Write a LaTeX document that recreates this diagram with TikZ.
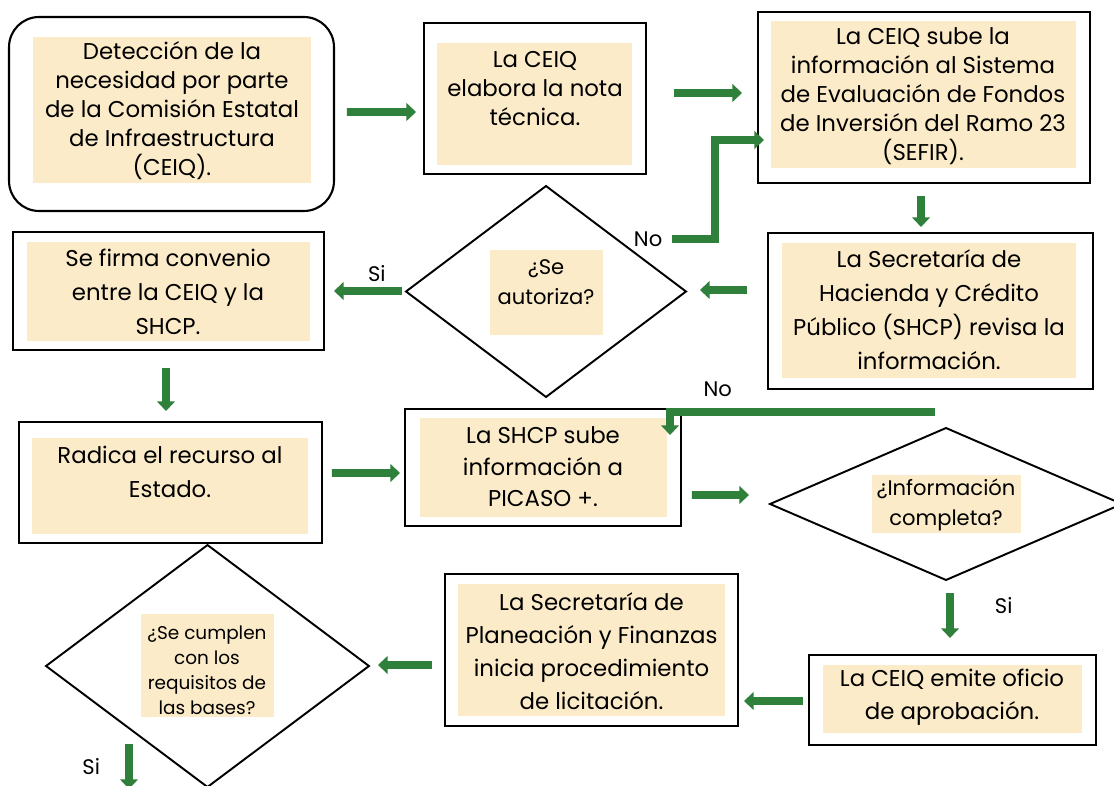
\documentclass[tikz,border=0pt]{standalone}
\usepackage{fontspec}
\setmainfont{Poppins}
\usetikzlibrary{calc,arrows.meta,shapes.geometric}
\definecolor{verde}{RGB}{47,128,59}
\definecolor{beige}{RGB}{252,235,200}
\tikzset{
    caja/.style={draw,line width=1.4pt,inner sep=0pt,outer sep=0pt},
    cajaredonda/.style={caja,line width=1.2pt,rounded corners=0.6cm},
    rombo/.style={draw,diamond,aspect=1,line width=1.1pt,inner sep=0pt,outer sep=0pt},
    fondo/.style={fill=beige,inner sep=0pt,outer sep=0pt},
    texto/.style={align=center,inner sep=0pt,font=\fontsize{13}{#1}\selectfont},
    texto/.default=16.5,
    textorombo/.style 2 args={align=center,inner sep=0pt,font=\fontsize{#1}{#2}\selectfont},
    etiqueta/.style={font=\fontsize{12}{14}\selectfont},
    flecha/.style={draw=verde,line width=4.4pt,-{Triangle[length=5.5pt,width=10pt]}}
}

\begin{document}
\begin{tikzpicture}[x=0.02cm,y=-0.02cm]
\useasboundingbox (0,0) rectangle (1114,786); % page size
\clip (0,0) rectangle (1114,786);
\fill[white] (0,0) rectangle (1114,786);

%%% FILA 1 %%%
\node[cajaredonda,minimum width=6.5cm,minimum height=3.88cm] (inicio) at (171.5,114) {}; % start
\node[fondo,minimum width=5.56cm,minimum height=2.92cm] (inicio-f) at (172,110) {};
\node[texto] (inicio-t) at (172,111) {Detección de la\\necesidad por parte\\de la Comisión Estatal\\de Infraestructura\\(CEIQ).};

\node[caja,minimum width=4.44cm,minimum height=3.02cm] (elabora) at (535,98.5) {};
\node[fondo,minimum width=3.9cm,minimum height=2.44cm] (elabora-f) at (534.5,104) {};
\node[texto] (elabora-t) at (535,89) {La CEIQ\\elabora la nota\\técnica.};

\node[caja,minimum width=6.64cm,minimum height=3.42cm] (sefir) at (924,97.5) {};
\node[fondo,minimum width=6.1cm,minimum height=2.94cm] (sefir-f) at (923.5,94.5) {};
\node[texto] (sefir-t) at (923,96) {La CEIQ sube la\\información al Sistema\\de Evaluación de Fondos\\de Inversión del Ramo 23\\(SEFIR).};

%%% FILA 2 %%%
\node[caja,minimum width=6.22cm,minimum height=2.36cm] (firma) at (168.5,291) {};
\node[fondo,minimum width=5.66cm,minimum height=1.98cm] (firma-f) at (168.5,291.5) {};
\node[texto=19.3] (firma-t) at (168,292) {Se firma convenio\\entre la CEIQ y la\\SHCP.};

\node[rombo,minimum width=5.6cm,minimum height=4.22cm] (autoriza) at (546,291.5) {}; % decision 1
\node[fondo,minimum width=2.26cm,minimum height=1.7cm] (autoriza-f) at (546.5,292.5) {};
\node[textorombo={12}{17}] (autoriza-t) at (546,282) {¿Se\\autoriza?};

\node[caja,minimum width=6.5cm,minimum height=3.12cm] (hacienda) at (930.5,311) {};
\node[fondo,minimum width=5.88cm,minimum height=2.7cm] (hacienda-f) at (929,310.5) {};
\node[texto=19.3] (hacienda-t) at (929,310) {La Secretaría de\\Hacienda y Crédito\\Público (SHCP) revisa la\\información.};

%%% FILA 3 %%%
\node[caja,minimum width=6.06cm,minimum height=2.42cm] (radica) at (170.5,482.5) {};
\node[fondo,minimum width=5.52cm,minimum height=1.92cm] (radica-f) at (170,486) {};
\node[texto=19.5] (radica-t) at (170,472) {Radica el recurso al\\Estado.};

\node[caja,minimum width=5.52cm,minimum height=2.34cm] (shcp) at (543,467.5) {};
\node[fondo,minimum width=4.94cm,minimum height=1.98cm] (shcp-f) at (543.5,467.5) {};
\node[texto=17.9] (shcp-t) at (543,467) {La SHCP sube\\información a\\PICASO +.};

\node[rombo,minimum width=7.04cm,minimum height=3.04cm] (info) at (946,504) {}; % decision 2
\node[fondo,minimum width=2.98cm,minimum height=1.16cm] (info-f) at (946.5,504) {};
\node[textorombo={12}{17}] (info-t) at (946,505) {¿Información\\completa?};

%%% FILA 4 %%%
\node[rombo,minimum width=6.46cm,minimum height=4.84cm] (cumplen) at (207.5,666) {}; % decision 3
\node[fondo,minimum width=2.66cm,minimum height=2.06cm] (cumplen-f) at (207.5,665.5) {};
\node[textorombo={10.5}{14.2}] (cumplen-t) at (207,670) {¿Se cumplen\\con los\\requisitos de\\las bases?};

\node[caja,minimum width=5.86cm,minimum height=3.04cm] (planea) at (591.5,650) {};
\node[fondo,minimum width=5.34cm,minimum height=2.64cm] (planea-f) at (591.5,650) {};
\node[texto=18.8] (planea-t) at (591.5,651) {La Secretaría de\\Planeación y Finanzas\\inicia procedimiento\\de licitación.};

\node[caja,minimum width=5.74cm,minimum height=1.8cm] (emite) at (952.5,700) {};
\node[fondo,minimum width=5.18cm,minimum height=1.36cm] (emite-f) at (952.5,699) {};
\node[texto=18.8] (emite-t) at (952,697) {La CEIQ emite oficio\\de aprobación.};

%%% FLECHAS %%%
\draw[flecha] ($(inicio.east)+(13,-2)$) -- ($(elabora.west)+(-8,13.5)$);
\draw[flecha] ($(elabora.east)+(28,-5.5)$) -- ($(sefir.west)+(-16,-4.5)$);
\draw[flecha] ($(sefir.south)+(-3,13)$) -- ($(hacienda.north)+(-9.5,-6)$);
\draw[flecha] ($(hacienda.west)+(-21,-21)$) -- ($(autoriza.east)+(14,-1.5)$);
\draw[flecha] ($(autoriza.west)+(-4,-0.5)$) -- ($(firma.east)+(10,0)$) node[etiqueta,pos=.37,above] (si1) {Si};
\draw[flecha] ($(autoriza.east)+(-14,-52.5)$) node[etiqueta,left] (no1) {No} -- ++(43,0) |- ($(sefir.west)+(6,42.5)$); % back to SEFIR
\draw[flecha] ($(firma.south)+(-2.5,18)$) -- ($(radica.north)+(-4.5,-11)$);
\draw[flecha] ($(radica.east)+(10,-9.5)$) -- ($(shcp.west)+(-5,5.5)$);
\draw[flecha] ($(shcp.east)+(11,27.5)$) -- ($(info.west)+(-21,-9)$);
\draw[flecha] ($(info.north)+(-11,-16)$) -| ($(shcp.north)+(127,26)$) node[etiqueta,pos=.41,above=3pt] (no2) {No}; % back to PICASO
\draw[flecha] ($(info.south)+(4,13)$) -- ($(emite.north)+(-2.5,-17)$) node[etiqueta,pos=.27,right=20pt] (si2) {Si};
\draw[flecha] ($(emite.west)+(-6,1)$) -- ($(planea.east)+(6,51)$);
\draw[flecha] ($(planea.west)+(-13,15)$) -- ($(cumplen.east)+(9,-1)$);
\draw[flecha] ($(cumplen.south)+(-78.5,-43)$) -- ($(cumplen.south)+(-78.5,2)$) node[etiqueta,pos=.5,left=11pt] (si3) {Si};
\end{tikzpicture}
\end{document}
